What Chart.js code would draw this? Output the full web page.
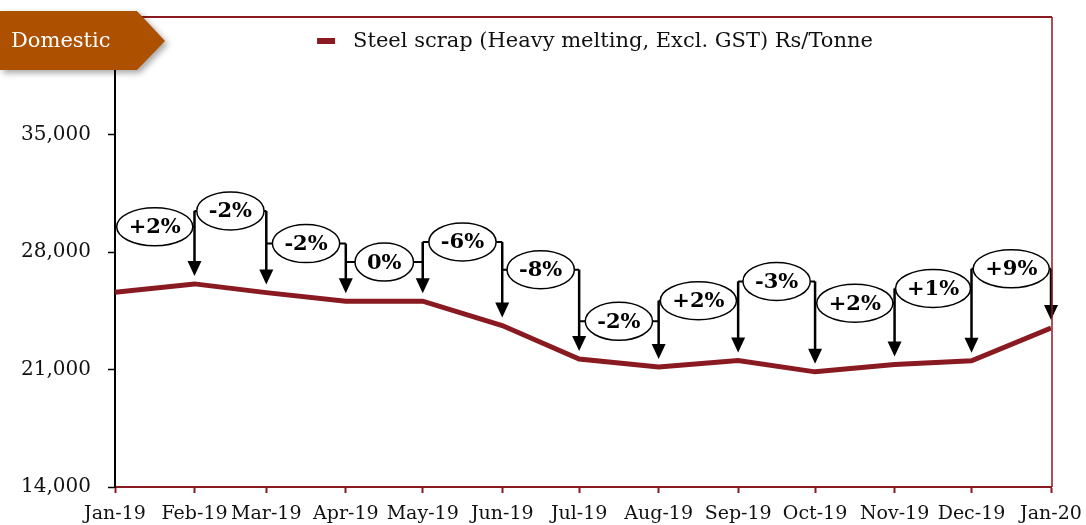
<!DOCTYPE html>
<html>
<head>
<meta charset="utf-8">
<script src="https://cdn.jsdelivr.net/npm/chart.js@4.4.1/dist/chart.umd.min.js"></script>
<style>
	body { margin: 0; background: #fff; }
	#wrap { width: 1086px; height: 525px; position: relative; }
</style>
</head>
<body>
<div id="wrap"><canvas id="line-chart" width="1086" height="525"></canvas></div>
<script>
var monthLabels = ['Jan-19', 'Feb-19', 'Mar-19', 'Apr-19', 'May-19', 'Jun-19', 'Jul-19', 'Aug-19', 'Sep-19', 'Oct-19', 'Nov-19', 'Dec-19', 'Jan-20'];
var monthDates = ['2019-01-01', '2019-02-01', '2019-03-01', '2019-04-01', '2019-05-01', '2019-06-01', '2019-07-01', '2019-08-01', '2019-09-01', '2019-10-01', '2019-11-01', '2019-12-01', '2020-01-01'];
var scrapPrice = [25600, 26100, 25580, 25070, 25070, 23620, 21620, 21150, 21540, 20860, 21300, 21520, 23470];
var changeLabels = ['+2%', '-2%', '-2%', '0%', '-6%', '-8%', '-2%', '+2%', '-3%', '+2%', '+1%', '+9%'];
var yTicks = [14000, 21000, 28000, 35000, 42000];
var seriesName = 'Steel scrap (Heavy melting, Excl. GST) Rs/Tonne';
var badgeText = 'Domestic';

var dayZero = Date.parse(monthDates[0]);
var monthDays = monthDates.map(function (d) { return (Date.parse(d) - dayZero) / 86400000; });
var points = monthDays.map(function (d, i) { return { x: d, y: scrapPrice[i] }; });

var lineRed = '#8a1a21';
var serif = '"DejaVu Serif", Georgia, serif';

// level of each % bubble (Rs/Tonne), layout only
var bubbleLevel = [29500, 30450, 28500, 27400, 28600, 26950, 23870, 25100, 26250, 24950, 25830, 27000];

var calloutPlugin = {
	id: 'callouts',
	afterDatasetsDraw: function (chart) {
		var ctx = chart.ctx, xs = chart.scales.x, ys = chart.scales.y;
		var cys = bubbleLevel.map(function (v) { return ys.getPixelForValue(v); });
		ctx.save();
		ctx.strokeStyle = '#000';
		ctx.fillStyle = '#000';
		// arrows down to each month
		for (var j = 1; j < monthDays.length; j++) {
			var x = xs.getPixelForValue(monthDays[j]);
			var top = cys[j - 1];
			if (j < cys.length) top = Math.min(top, cys[j]);
			var tip = ys.getPixelForValue(scrapPrice[j]) - 8;
			ctx.lineWidth = 2.5;
			ctx.beginPath();
			ctx.moveTo(x, top);
			ctx.lineTo(x, tip - 12);
			ctx.stroke();
			ctx.beginPath();
			ctx.moveTo(x - 7, tip - 15);
			ctx.lineTo(x + 7, tip - 15);
			ctx.lineTo(x, tip);
			ctx.closePath();
			ctx.fill();
		}
		ctx.font = 'bold 21px ' + serif;
		ctx.textAlign = 'center';
		ctx.textBaseline = 'middle';
		for (var i = 0; i < changeLabels.length; i++) {
			var x0 = xs.getPixelForValue(monthDays[i]);
			var x1 = xs.getPixelForValue(monthDays[i + 1]);
			var cx = (x0 + x1) / 2, cy = cys[i];
			var tw = ctx.measureText(changeLabels[i]).width;
			var rx = Math.min(tw / 2 + 12, (x1 - x0) / 2 - 1), ry = 19;
			ctx.lineWidth = 2;
			ctx.beginPath();
			ctx.moveTo(x0, cy);
			ctx.lineTo(cx - rx, cy);
			ctx.moveTo(cx + rx, cy);
			ctx.lineTo(x1, cy);
			ctx.stroke();
			ctx.lineWidth = 1.5;
			ctx.beginPath();
			ctx.ellipse(cx, cy, rx, ry, 0, 0, 2 * Math.PI);
			ctx.fillStyle = '#fff';
			ctx.fill();
			ctx.stroke();
			ctx.fillStyle = '#000';
			ctx.fillText(changeLabels[i], cx, cy + 1);
		}
		ctx.restore();
	}
};

var framePlugin = {
	id: 'frame',
	afterDraw: function (chart) {
		var ctx = chart.ctx, a = chart.chartArea;
		ctx.save();
		ctx.strokeStyle = lineRed;
		ctx.lineWidth = 2;
		ctx.beginPath();
		ctx.moveTo(a.left, a.top);
		ctx.lineTo(a.right + 1, a.top);
		ctx.stroke();
		ctx.lineWidth = 1.5;
		ctx.beginPath();
		ctx.moveTo(a.right + 1, a.top);
		ctx.lineTo(a.right + 1, a.bottom);
		ctx.stroke();

		// legend
		var ds = chart.data.datasets[0];
		ctx.font = '21px ' + serif;
		ctx.textBaseline = 'middle';
		var tw = ctx.measureText(ds.label).width;
		var lx = (a.left + a.right) / 2 + 12 - (36 + tw) / 2;
		ctx.fillStyle = ds.borderColor;
		ctx.fillRect(lx, 38, 18, 6);
		ctx.fillStyle = '#111';
		ctx.fillText(ds.label, lx + 36, 42);

		// Domestic tag
		ctx.shadowColor = 'rgba(0, 0, 0, 0.35)';
		ctx.shadowBlur = 6;
		ctx.shadowOffsetX = 3;
		ctx.shadowOffsetY = 3;
		ctx.fillStyle = '#ad5100';
		ctx.beginPath();
		ctx.moveTo(0, 11);
		ctx.lineTo(137, 11);
		ctx.lineTo(165, 41);
		ctx.lineTo(137, 70);
		ctx.lineTo(0, 70);
		ctx.closePath();
		ctx.fill();
		ctx.shadowColor = 'transparent';
		ctx.fillStyle = '#fff';
		ctx.font = '21px ' + serif;
		ctx.fillText(badgeText, 11, 42);
		ctx.restore();
	}
};

var lineChart = new Chart(document.getElementById('line-chart'), {
	type: 'line',
	data: {
		datasets: [
			{
				label: seriesName,
				data: points,
				borderColor: lineRed,
				backgroundColor: lineRed,
				borderWidth: 5,
				pointRadius: 0,
				tension: 0
			}
		]
	},
	options: {
		responsive: false,
		animation: false,
		layout: { padding: { left: 0, right: 35, top: 17, bottom: 0 } },
		plugins: {
			legend: { display: false },
			tooltip: { enabled: false }
		},
		scales: {
			x: {
				type: 'linear',
				min: monthDays[0],
				max: monthDays[monthDays.length - 1],
				afterBuildTicks: function (axis) {
					axis.ticks = monthDays.map(function (d) { return { value: d }; });
				},
				afterFit: function (axis) {
					axis.height = 38;
					axis.paddingLeft = 0;
					axis.paddingRight = 0;
				},
				border: { color: lineRed, width: 2 },
				grid: { drawOnChartArea: false, color: lineRed, tickLength: 6, tickWidth: 2 },
				ticks: {
					autoSkip: false,
					maxRotation: 0,
					padding: 10,
					color: '#111',
					font: { family: serif, size: 19 },
					callback: function (v) { return monthLabels[monthDays.indexOf(v)]; }
				}
			},
			y: {
				min: yTicks[0],
				max: yTicks[yTicks.length - 1],
				afterBuildTicks: function (axis) {
					axis.ticks = yTicks.map(function (v) { return { value: v }; });
				},
				afterFit: function (axis) {
					axis.width = 115;
					axis.paddingTop = 0;
					axis.paddingBottom = 0;
				},
				border: { color: '#000', width: 2 },
				grid: { drawOnChartArea: false, color: '#000', tickLength: 7, tickWidth: 1.5 },
				ticks: {
					padding: 17,
					color: '#111',
					font: { family: serif, size: 20 },
					callback: function (v) { return v >= 42000 ? '' : v.toLocaleString('en-US'); }
				}
			}
		}
	},
	plugins: [calloutPlugin, framePlugin]
});
</script>
</body>
</html>
